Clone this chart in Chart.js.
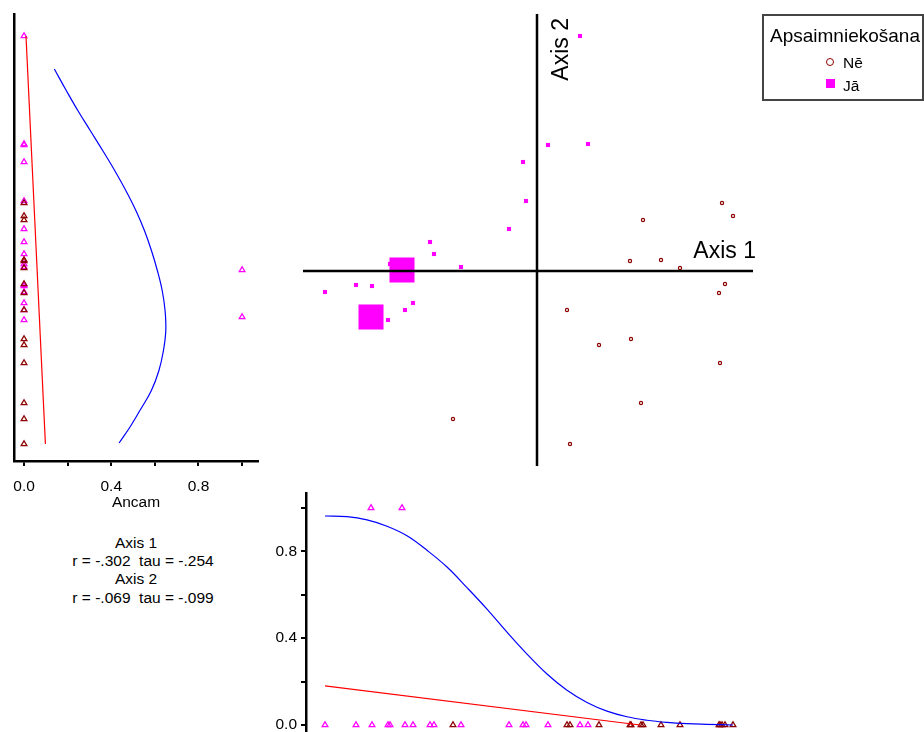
<!DOCTYPE html>
<html>
<head>
<meta charset="utf-8">
<script src="https://cdn.jsdelivr.net/npm/chart.js@4.4.0/dist/chart.umd.min.js"></script>
<style>
    body { margin: 0; width: 924px; height: 732px; overflow: hidden; background: #fff; position: relative;
           font-family: "Liberation Sans", Arial, sans-serif; color: #000; }
    canvas { position: absolute; }
    #leftChart { left: 0; top: 0; }
    #mainChart { left: 293px; top: 4px; }
    #bottomChart { left: 260px; top: 480px; }
    .stat { position: absolute; width: 200px; text-align: center; white-space: pre; font-size: 15.5px; line-height: 18px; }
    #legendBox { position: absolute; left: 762px; top: 14px; width: 162px; height: 87px; box-sizing: border-box; border: 2px solid #444; }
    .lg { position: absolute; white-space: pre; }
    #lgTitle { left: 770px; top: 25.6px; font-size: 19px; line-height: 19px; }
    #lgNe { left: 843px; top: 55.2px; font-size: 15.5px; line-height: 15.5px; }
    #lgJa { left: 843px; top: 77.6px; font-size: 15.5px; line-height: 15.5px; }
    #symNe { left: 826px; top: 57.7px; width: 8px; height: 8px; box-sizing: border-box; border: 1.5px solid #8b0000; border-radius: 50%; background: #fff; }
    #symJa { left: 826px; top: 79px; width: 9px; height: 9px; background: #ff00ff; }
</style>
</head>
<body>
<canvas id="leftChart" width="270" height="520"></canvas>
<canvas id="mainChart" width="480" height="472"></canvas>
<canvas id="bottomChart" width="500" height="255"></canvas>

<div id="legendBox"></div>
<div class="lg" id="lgTitle">Apsaimniekošana</div>
<div class="lg" id="symNe"></div>
<div class="lg" id="lgNe">Nē</div>
<div class="lg" id="symJa"></div>
<div class="lg" id="lgJa">Jā</div>

<script>
// ordination scores, group "Jā"
const jaAxis1 = [0.43, 0.11, 0.51, -0.14, -0.11, -0.28, -1.07, -1.03, -0.76, -1.35, -1.47, -1.81, -1.65, -2.12, -1.24, -1.32, -1.66, -1.49];
const jaAxis2 = [2.35, 1.26, 1.27, 1.09, 0.70, 0.42, 0.29, 0.17, 0.04, 0.01, 0.07, -0.14, -0.15, -0.21, -0.32, -0.39, -0.46, -0.49];
const jaAncam = [0, 0, 0, 0, 0, 0, 0, 0, 0, 1, 0, 0, 0, 0, 0, 0, 1, 0];

// ordination scores, group "Nē"
const neAxis1 = [1.85, 1.96, 1.06, 0.93, 1.24, 1.43, 1.88, 1.82, 0.30, 0.62, 0.94, 1.83, 1.04, -0.84, 0.33];
const neAxis2 = [0.68, 0.55, 0.51, 0.10, 0.11, 0.03, -0.13, -0.22, -0.39, -0.74, -0.68, -0.92, -1.32, -1.48, -1.73];
const neAncam = [0, 0, 0, 0, 0, 0, 0, 0, 0, 0, 0, 0, 0, 0, 0];

// Ancam vs Axis 2 (left panel)
const leftFitAxis2 = [2.35, -1.73];
const leftFitAncam = [0.009, 0.098];
const leftSmoothAxis2 = [2.02, 1.80, 1.60, 1.40, 1.20, 1.00, 0.80, 0.60, 0.40, 0.20, 0.00, -0.20, -0.40, -0.60, -0.80, -1.00, -1.20, -1.40, -1.56, -1.72];
const leftSmoothAncam = [0.139, 0.195, 0.248, 0.305, 0.362, 0.417, 0.468, 0.514, 0.553, 0.585, 0.612, 0.634, 0.647, 0.650, 0.639, 0.618, 0.583, 0.530, 0.486, 0.436];

// Ancam vs Axis 1 (bottom panel)
const bottomFitAxis1 = [-2.12, 1.03];
const bottomFitAncam = [0.180, 0.0];
const bottomSmoothAxis1 = [-2.12, -1.90, -1.70, -1.50, -1.30, -1.10, -0.90, -0.70, -0.50, -0.30, -0.10, 0.10, 0.30, 0.50, 0.70, 0.90, 1.10, 1.30, 1.50, 1.70, 1.96];
const bottomSmoothAncam = [0.963, 0.960, 0.945, 0.916, 0.872, 0.805, 0.728, 0.633, 0.534, 0.428, 0.327, 0.235, 0.160, 0.104, 0.064, 0.038, 0.022, 0.012, 0.006, 0.003, 0.000];

const ancamTicks = [0, 0.2, 0.4, 0.6, 0.8, 1.0];
const ancamTickLabels = ['0.0', '', '0.4', '', '0.8', ''];

const statLines = ['Axis 1', 'r = -.302  tau = -.254', 'Axis 2', 'r = -.069  tau = -.099'];

const NE_COLOR = '#8b0000';
const JA_COLOR = '#ff00ff';

Chart.defaults.font.family = '"Liberation Sans", Arial, sans-serif';
Chart.defaults.color = '#000';

function pairs(xs, ys) {
    return xs.map((x, i) => ({ x: x, y: ys[i] }));
}

const baseOptions = {
    responsive: false,
    animation: false,
    events: [],
    plugins: { legend: { display: false }, tooltip: { enabled: false } }
};

function triangleSet(data, color) {
    return {
        data: data,
        pointStyle: 'triangle',
        pointRadius: 3.3,
        borderWidth: 1.3,
        borderColor: color,
        backgroundColor: 'rgba(0,0,0,0)',
        clip: false
    };
}

function lineSet(data, color, tension) {
    return {
        data: data,
        showLine: true,
        pointRadius: 0,
        borderWidth: 1.2,
        borderColor: color,
        tension: tension || 0,
        clip: false
    };
}

// scale boxes get a fixed size and no label overhang, so the plot area stays put
function fixBox(size) {
    return s => {
        if (s.isHorizontal()) s.height = size; else s.width = size;
        s.paddingTop = s.paddingBottom = s.paddingLeft = s.paddingRight = 0;
    };
}

function ancamTickAxis(extra) {
    return Object.assign({
        type: 'linear',
        min: -0.046,
        afterBuildTicks: s => { s.ticks = ancamTicks.map(v => ({ value: v })); },
        ticks: { callback: (v, i) => ancamTickLabels[i], font: { size: 15.5 }, color: '#000', autoSkip: false, maxRotation: 0 },
        grid: { drawOnChartArea: false, color: '#000', lineWidth: 2, tickLength: 5 },
        border: { color: '#000', width: 2.5 }
    }, extra);
}

// left panel: Ancam (x) against Axis 2 (y)
const leftAxis = ancamTickAxis({
    max: 1.073,
    afterFit: fixBox(59),
    title: { display: true, text: 'Ancam', font: { size: 15.5 }, color: '#000', padding: { top: 0, bottom: 7.7 } }
});
leftAxis.ticks.padding = 11.7;

new Chart(document.getElementById('leftChart'), {
    type: 'scatter',
    data: {
        datasets: [
            lineSet(pairs(leftFitAncam, leftFitAxis2), '#ff0000'),
            lineSet(pairs(leftSmoothAncam, leftSmoothAxis2), '#0000ff', 0.4),
            triangleSet(pairs(neAncam, neAxis2), NE_COLOR),
            triangleSet(pairs(jaAncam, jaAxis2), JA_COLOR)
        ]
    },
    options: Object.assign({}, baseOptions, {
        layout: { autoPadding: false, padding: { top: 14, right: 12, left: 0, bottom: 0 } },
        scales: {
            x: leftAxis,
            y: {
                type: 'linear', min: -1.90, max: 2.57,
                afterFit: fixBox(14),
                ticks: { display: false },
                grid: { display: false },
                border: { color: '#000', width: 2.5 }
            }
        }
    })
});

// main ordination plot
const crossAxes = {
    id: 'crossAxes',
    afterDatasetsDraw(chart) {
        const { ctx, chartArea, scales: { x, y } } = chart;
        const x0 = x.getPixelForValue(0);
        const y0 = y.getPixelForValue(0);
        ctx.save();
        ctx.strokeStyle = '#000';
        ctx.lineWidth = 2.5;
        ctx.beginPath();
        ctx.moveTo(chartArea.left, y0);
        ctx.lineTo(chartArea.right, y0);
        ctx.moveTo(x0, chartArea.top);
        ctx.lineTo(x0, chartArea.bottom);
        ctx.stroke();
        ctx.fillStyle = '#000';
        ctx.font = '23px "Liberation Sans", Arial, sans-serif';
        ctx.textAlign = 'right';
        ctx.textBaseline = 'alphabetic';
        ctx.fillText('Axis 1', chartArea.right + 3, y0 - 12.7);
        ctx.translate(x0 + 31, chartArea.top + 4);
        ctx.rotate(-Math.PI / 2);
        ctx.fillText('Axis 2', 0, 0);
        ctx.restore();
    }
};

new Chart(document.getElementById('mainChart'), {
    type: 'scatter',
    data: {
        datasets: [
            {
                data: pairs(neAxis1, neAxis2),
                pointStyle: 'circle',
                pointRadius: 1.6,
                borderWidth: 1.2,
                borderColor: NE_COLOR,
                backgroundColor: '#fff',
                clip: false
            },
            {
                data: pairs(jaAxis1, jaAxis2),
                pointStyle: 'rect',
                pointRadius: ctx => jaAncam[ctx.dataIndex] > 0 ? 17.7 : 2.9,
                borderWidth: 0,
                backgroundColor: JA_COLOR,
                clip: false
            }
        ]
    },
    options: Object.assign({}, baseOptions, {
        layout: { autoPadding: false, padding: { left: 10, right: 20, top: 10, bottom: 10 } },
        scales: {
            x: { type: 'linear', display: false, min: -2.34, max: 2.16 },
            y: { type: 'linear', display: false, min: -1.95, max: 2.57 }
        }
    }),
    plugins: [crossAxes]
});

// bottom panel: Axis 1 (x) against Ancam (y)
const bottomAxis = ancamTickAxis({
    max: 1.069,
    afterFit: fixBox(46)
});
bottomAxis.ticks.padding = 4;

new Chart(document.getElementById('bottomChart'), {
    type: 'scatter',
    data: {
        datasets: [
            lineSet(pairs(bottomFitAxis1, bottomFitAncam), '#ff0000'),
            lineSet(pairs(bottomSmoothAxis1, bottomSmoothAncam), '#0000ff', 0.4),
            triangleSet(pairs(neAxis1, neAncam), NE_COLOR),
            triangleSet(pairs(jaAxis1, jaAncam), JA_COLOR)
        ]
    },
    options: Object.assign({}, baseOptions, {
        layout: { autoPadding: false, padding: { top: 13, right: 7, left: 0, bottom: 0 } },
        scales: {
            x: { type: 'linear', display: false, min: -2.31, max: 2.16 },
            y: bottomAxis
        }
    })
});

// correlation text under the left panel
const statCentres = [[136, 543], [143, 561], [136, 579], [143, 598]];
statLines.forEach((text, i) => {
    const div = document.createElement('div');
    div.className = 'stat';
    div.textContent = text;
    div.style.left = (statCentres[i][0] - 100) + 'px';
    div.style.top = (statCentres[i][1] - 9) + 'px';
    document.body.appendChild(div);
});
</script>
</body>
</html>
